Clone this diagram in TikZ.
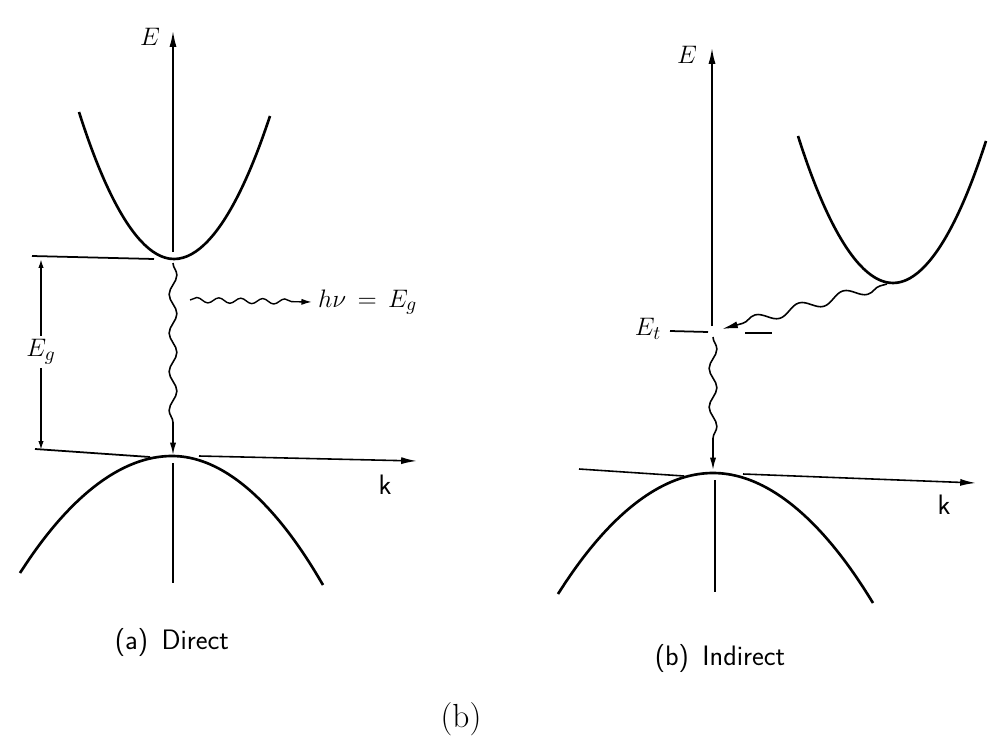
\documentclass[tikz,border=0pt]{standalone}
\usepackage{amsmath}
\usepackage{tikz}
\usetikzlibrary{arrows.meta, decorations.pathmorphing}

\tikzset{
    axis/.style={line width=0.9pt, -{Latex[length=9pt, width=4pt]}},
    band/.style={line width=1.5pt},
    level/.style={line width=1pt},
    photon/.style={line width=0.9pt, decorate,
        decoration={snake, amplitude=2.2pt, segment length=22pt, post length=9pt},
        -{Latex[length=7pt, width=3.5pt]}},
    phonon/.style={line width=0.9pt, decorate,
        decoration={snake, amplitude=2.8pt, segment length=26pt, pre length=4pt, post length=6pt},
        -{Latex[length=9pt, width=4pt]}},
    lbl/.style={font=\fontsize{15}{17}\selectfont},
    sublbl/.style={font=\sffamily\fontsize{16}{18}\selectfont},
}

\begin{document}
\begin{tikzpicture}[x=0.02cm, y=-0.02cm]
    \useasboundingbox (0,0) rectangle (997,750);

    % (a) Direct: band edges and axes
    \coordinate (Atip)  at (173,31);
    \coordinate (Aax1)  at (173,252);
    \coordinate (Aax2)  at (173,463);
    \coordinate (Aax3)  at (173,583);
    \coordinate (Acb)   at (174,259);
    \coordinate (Avb)   at (172,456);
    \coordinate (AcbL)  at (79,112);
    \coordinate (AcbR)  at (270,116);
    \coordinate (AvbL)  at (20,573);
    \coordinate (AvbR)  at (323,585);
    \coordinate (Ak1)   at (199,456);
    \coordinate (Ak2)   at (417,461);

    \draw[axis] (Aax1) -- (Atip);
    \draw[line width=0.9pt] (Aax2) -- (Aax3);
    \draw[band] (AcbL) parabola bend (Acb) (AcbR);
    \draw[band] (AvbL) parabola bend (Avb) (AvbR);
    \draw[axis] (Ak1) -- (Ak2);
    \node[lbl] (AE) at (150,37) {$E$};
    \node[sublbl] (Ak) at (385,485) {k};

    % band gap E_g
    \coordinate (EgT1) at (32,256);  \coordinate (EgT2) at (154,259);
    \coordinate (EgB1) at (35,449);  \coordinate (EgB2) at (150,457);
    \coordinate (EgUp) at (41,259);  \coordinate (EgDn) at (41,450);
    \draw[level] (EgT1) -- (EgT2);
    \draw[level] (EgB1) -- (EgB2);
    \node[lbl, fill=white, inner sep=2pt] (Eg) at (41,352) {$E_g$};
    \draw[line width=0.9pt, -{Latex[length=5pt, width=3pt]}] (Eg) -- (EgUp);
    \draw[line width=0.9pt, -{Latex[length=5pt, width=3pt]}] (Eg) -- (EgDn);

    % direct recombination and emitted photon
    \coordinate (Aw1) at (173,263);
    \coordinate (Aw2) at (173,455);
    \draw[photon] (Aw1) -- (Aw2);
    \coordinate (hvS) at (190,300);
    \node[lbl, anchor=west] (hv) at (312,302) {$h\nu\,=\,E_g$};
    \draw[line width=0.8pt, decorate,
        decoration={snake, amplitude=1.5pt, segment length=12.5pt, post length=7pt},
        -{Latex[length=6pt, width=3.5pt]}] (hvS) -- (hv.west);
    \node[sublbl] (capA) at (172,642) {(a)\, Direct};

    % (b) Indirect: band edges and axes
    \coordinate (Btip)  at (712,48);
    \coordinate (Bax1)  at (712,326);
    \coordinate (Bax2)  at (715,480);
    \coordinate (Bax3)  at (715,592);
    \coordinate (Bcb)   at (893,283);
    \coordinate (Bvb)   at (713,473);
    \coordinate (BcbL)  at (798,136);
    \coordinate (BcbR)  at (986,141);
    \coordinate (BvbL)  at (558,594);
    \coordinate (BvbR)  at (873,603);
    \coordinate (Bk0)   at (579,469);
    \coordinate (Bk0b)  at (684,476);
    \coordinate (Bk1)   at (743,474);
    \coordinate (Bk2)   at (976,483);

    \draw[axis] (Bax1) -- (Btip);
    \draw[line width=0.9pt] (Bax2) -- (Bax3);
    \draw[band] (BcbL) parabola bend (Bcb) (BcbR);
    \draw[band] (BvbL) parabola bend (Bvb) (BvbR);
    \draw[line width=0.9pt] (Bk0) -- (Bk0b);
    \draw[axis] (Bk1) -- (Bk2);
    \node[lbl] (BE) at (687,55) {$E$};
    \node[sublbl] (Bk) at (944,505) {k};

    % trap level E_t
    \coordinate (Et1) at (670,331);  \coordinate (Et2) at (708,332);
    \coordinate (Et3) at (745,333);  \coordinate (Et4) at (772,333);
    \draw[level] (Et1) -- (Et2);
    \draw[level] (Et3) -- (Et4);
    \node[lbl] (Et) at (648,329) {$E_t$};

    % capture into the trap, then recombination
    \coordinate (Bw0) at (887,284);
    \coordinate (Bw1) at (722,329);
    \draw[phonon] (Bw0) -- (Bw1);
    \coordinate (Bw2) at (713,337);
    \coordinate (Bw3) at (713,470);
    \draw[photon] (Bw2) -- (Bw3);
    \node[sublbl] (capB) at (720,658) {(b)\, Indirect};

    \node[font=\fontsize{19}{22}\selectfont] (capAll) at (461,719) {(b)};
\end{tikzpicture}
\end{document}
